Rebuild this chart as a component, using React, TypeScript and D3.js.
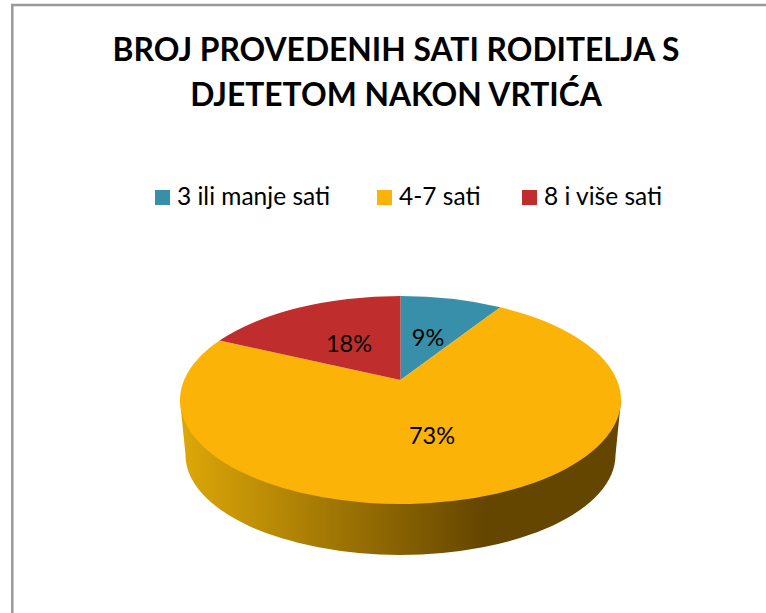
import * as d3 from 'd3';

const categories = ['3 ili manje sati', '4-7 sati', '8 i više sati'];
const shares = [9, 73, 18];
const colors = ['#378fa9', '#fcb307', '#c02d2d'];
const titleLines = ['BROJ PROVEDENIH SATI RODITELJA S', 'DJETETOM NAKON VRTIĆA'];

const legendX = [155, 377, 522];
const labelPos = [
  [428, 338],
  [432, 436],
  [349, 344],
];

// top face of the pie, seen in perspective: the apex sits above the ellipse centre
const cx = 400.5;
const cy = 400;
const rx = 220.5;
const ry = 104;
const tilt = -0.192;

const project = (angle: number): [number, number] => {
  const u = Math.sin(angle);
  const v = -Math.cos(angle);
  const d = 1 + tilt * v;
  return [
    cx + (rx * u * Math.sqrt(1 - tilt * tilt)) / d,
    cy + (ry * (v + tilt)) / d,
  ];
};

const apex: [number, number] = [cx, cy + ry * tilt];

const pie = d3.pie<number>().sort(null).value((d) => d);

export default function App() {
  const arcs = pie(shares);

  const wedgePath = (a: d3.PieArcDatum<number>) => {
    const [x0, y0] = project(a.startAngle);
    const [x1, y1] = project(a.endAngle);
    const large = a.endAngle - a.startAngle > Math.PI ? 1 : 0;
    return `M${apex[0]},${apex[1]}L${x0},${y0}A${rx},${ry} 0 ${large} 1 ${x1},${y1}Z`;
  };

  // side wall: top ellipse joined to a slightly narrower bottom ellipse
  const rx2 = 215;
  const ry2 = 100;
  const cy2 = 455;
  const sidePath = `M${cx - rx},${cy}L${cx - rx2},${cy2}A${rx2},${ry2} 0 0 0 ${cx + rx2},${cy2}L${cx + rx},${cy}Z`;

  return (
    <svg
      width={766}
      height={613}
      style={{ position: 'absolute', left: 0, top: 0, background: '#fff' }}
    >
      <defs>
        <linearGradient id="side" gradientUnits="userSpaceOnUse" x1={186} y1={0} x2={484} y2={0}>
          <stop offset="0" stopColor="#dba608" />
          <stop offset="1" stopColor="#654600" />
        </linearGradient>
      </defs>

      <path d="M12.3,613V5H766" fill="none" stroke="#999" strokeWidth={2.5} />

      {titleLines.map((line, i) => (
        <text
          key={line}
          x={396}
          y={61 + i * 45}
          textAnchor="middle"
          fontFamily="Lato"
          fontWeight={700}
          fontSize={31.8}
          fill="#000"
        >
          {line}
        </text>
      ))}

      {categories.map((c, i) => (
        <g key={c}>
          <rect x={legendX[i]} y={190} width={15} height={15} fill={colors[i]} />
          <text x={legendX[i] + 22} y={205} fontFamily="Lato" fontSize={24.5} fill="#000">
            {c}
          </text>
        </g>
      ))}

      <path d={sidePath} fill="url(#side)" />
      {arcs.map((a, i) => (
        <path key={categories[i]} d={wedgePath(a)} fill={colors[i]} />
      ))}

      {shares.map((s, i) => (
        <text
          key={categories[i]}
          x={labelPos[i][0]}
          y={labelPos[i][1] + 8}
          textAnchor="middle"
          fontFamily="Lato"
          fontSize={23.5}
          fill="#000"
        >
          {s}%
        </text>
      ))}
    </svg>
  );
}
